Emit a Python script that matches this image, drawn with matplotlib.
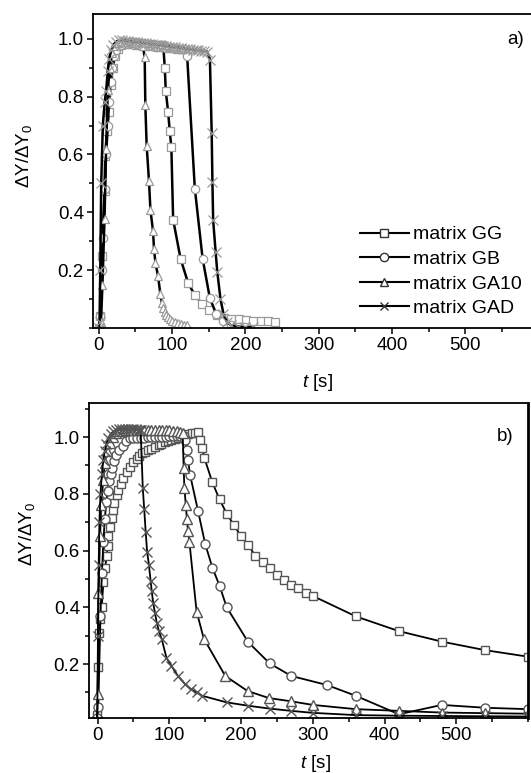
import matplotlib
matplotlib.use("Agg")
import matplotlib.pyplot as plt
from matplotlib.lines import Line2D
from matplotlib.ticker import MultipleLocator, FixedLocator

plt.rcParams['font.family'] = ['Liberation Sans', 'DejaVu Sans']
plt.rcParams['mathtext.fontset'] = 'custom'
plt.rcParams['mathtext.rm'] = 'Liberation Sans'
plt.rcParams['mathtext.it'] = 'Liberation Sans:italic'

# ---- panel a) ----
gg_a_t = [0, 2.3, 5, 7.8, 8.7, 11, 13.3, 16, 19, 22, 26, 30, 34, 38, 42, 46, 50, 54, 58, 62,
          66, 70, 74, 78, 82, 86, 88, 90, 91.4, 94.5, 96.8, 99, 101.4, 111.5, 122, 131, 141,
          151, 161, 171, 181, 191, 201, 211, 221, 231, 241]
gg_a_y = [0.0, 0.04, 0.25, 0.475, 0.593, 0.68, 0.748, 0.84, 0.9, 0.94, 0.965, 0.978, 0.985,
          0.988, 0.988, 0.987, 0.986, 0.985, 0.984, 0.983, 0.982, 0.981, 0.98, 0.979, 0.978,
          0.977, 0.975, 0.899, 0.819, 0.748, 0.681, 0.624, 0.375, 0.24, 0.154, 0.114, 0.083,
          0.062, 0.045, 0.033, 0.031, 0.031, 0.027, 0.025, 0.023, 0.023, 0.02]

gb_a_t = [0, 2, 4, 5.5, 8, 10, 12.3, 14, 16, 18, 21, 24, 28, 32, 36, 40, 44, 48, 52, 56,
          60, 64, 68, 72, 76, 80, 84, 88, 92, 96, 100, 104, 108, 112, 116, 120.5, 131, 141.6,
          151.6, 160, 170, 180, 190, 200]
gb_a_y = [0.0, 0.04, 0.2, 0.31, 0.48, 0.6, 0.7, 0.78, 0.85, 0.9, 0.94, 0.96, 0.975, 0.98,
          0.982, 0.982, 0.981, 0.98, 0.979, 0.978, 0.977, 0.976, 0.975, 0.974, 0.973, 0.972,
          0.971, 0.97, 0.969, 0.968, 0.967, 0.966, 0.965, 0.964, 0.963, 0.94, 0.482, 0.24,
          0.102, 0.05, 0.025, 0.01, 0.005, 0.003]

ga10_a_t = [1, 3, 5, 7.8, 10, 12.3, 15, 18, 22, 26, 30, 34, 38, 42, 46, 50, 54, 58, 60, 62.6,
            63.5, 65.3, 68.5, 70.4, 74, 75.3, 77.3, 80.8, 84, 86, 88, 90, 92, 94, 97, 100,
            104, 108, 112, 116, 120]
ga10_a_y = [0.0, 0.02, 0.15, 0.377, 0.62, 0.822, 0.9, 0.95, 0.975, 0.985, 0.99, 0.99, 0.989,
            0.988, 0.986, 0.984, 0.982, 0.98, 0.975, 0.937, 0.77, 0.63, 0.507, 0.409, 0.335,
            0.274, 0.224, 0.18, 0.117, 0.088, 0.07, 0.055, 0.045, 0.037, 0.03, 0.025, 0.02,
            0.016, 0.013, 0.011, 0.01]

gad_a_t = [0, 1, 2, 3.3, 5.5, 8, 10, 12.3, 14, 17, 20, 24, 28, 32, 36, 40, 44, 48, 52, 56,
           60, 64, 68, 72, 76, 80, 84, 88, 92, 96, 100, 104, 108, 112, 116, 120, 124, 128,
           132, 136, 140, 144, 148, 151.6, 154, 155, 156, 159.4, 161.6, 166, 170, 175, 180,
           190, 200, 211]
gad_a_y = [0.0, 0.02, 0.2, 0.5, 0.7, 0.78, 0.82, 0.89, 0.93, 0.96, 0.98, 0.99, 0.995, 0.994,
           0.993, 0.992, 0.99, 0.989, 0.988, 0.986, 0.985, 0.984, 0.982, 0.981, 0.98, 0.978,
           0.977, 0.976, 0.974, 0.973, 0.972, 0.97, 0.969, 0.968, 0.966, 0.965, 0.964, 0.962,
           0.961, 0.96, 0.958, 0.957, 0.955, 0.928, 0.673, 0.505, 0.372, 0.262, 0.195, 0.1,
           0.05, 0.02, 0.01, 0.005, 0.003, 0.002]

# ---- panel b) ----
gg_b_t = [-0.5, 0.3, 2, 4, 5.8, 8.1, 10.4, 12.8, 14.2, 15, 17.4, 19.8, 22, 23.4, 26.7, 29,
          32.7, 36, 40.6, 45, 50, 54.6, 58, 61.5, 66, 70.8, 75, 80, 85, 89, 94, 98.6, 103,
          108, 112, 117, 122, 126.5, 131, 135.8, 140.4, 143, 146, 149, 160, 170, 180, 190,
          200, 210, 220, 230, 240, 250, 260, 270, 280, 290, 300, 360, 420, 480, 540, 600]
gg_b_y = [0.02, 0.19, 0.31, 0.36, 0.40, 0.49, 0.54, 0.58, 0.617, 0.65, 0.684, 0.714, 0.743,
          0.766, 0.795, 0.815, 0.836, 0.854, 0.877, 0.895, 0.912, 0.924, 0.933, 0.942, 0.948,
          0.953, 0.959, 0.965, 0.971, 0.977, 0.982, 0.986, 0.99, 0.994, 0.998, 1.002, 1.007,
          1.012, 1.014, 1.015, 1.018, 0.99, 0.96, 0.925, 0.84, 0.78, 0.73, 0.69, 0.65, 0.62,
          0.58, 0.56, 0.54, 0.515, 0.497, 0.48, 0.468, 0.45, 0.44, 0.368, 0.316, 0.279,
          0.249, 0.226]

gb_b_t = [-0.5, 1, 4, 6, 8, 10, 12, 14, 16, 18, 20, 23, 26, 30, 35, 40, 45, 50, 55, 60,
          65, 70, 75, 80, 85, 90, 95, 100, 105, 110, 115, 120, 122, 124, 126, 129, 140, 150,
          160, 170, 180, 210, 240, 270, 320, 360, 420, 480, 540, 600]
gb_b_y = [0.01, 0.047, 0.37, 0.52, 0.63, 0.71, 0.77, 0.81, 0.845, 0.87, 0.89, 0.915, 0.935,
          0.955, 0.97, 0.985, 0.995, 0.996, 0.997, 0.998, 0.998, 0.999, 0.999, 1.0, 1.0,
          1.001, 1.001, 1.002, 1.002, 1.003, 1.003, 1.004, 0.99, 0.955, 0.92, 0.866, 0.74,
          0.623, 0.54, 0.476, 0.40, 0.277, 0.202, 0.158, 0.126, 0.088, 0.023, 0.056, 0.046,
          0.041]

ga10_b_t = [-1, 0.5, 1, 3.5, 5, 8, 10, 13, 17, 21, 26, 30, 35, 40, 45, 50, 55, 60, 65, 70,
            75, 80, 85, 90, 95, 100, 105, 110, 115, 118.6, 120, 121, 123, 124.5, 126, 128,
            138, 148, 178, 209, 239, 269, 300, 360, 420, 480, 540, 600]
ga10_b_y = [0.0, 0.094, 0.45, 0.65, 0.76, 0.85, 0.91, 0.95, 0.98, 1.0, 1.015, 1.02, 1.022,
            1.023, 1.024, 1.024, 1.025, 1.025, 1.025, 1.025, 1.025, 1.024, 1.024, 1.024,
            1.023, 1.023, 1.022, 1.02, 1.018, 1.015, 0.89, 0.82, 0.76, 0.71, 0.67, 0.63,
            0.385, 0.29, 0.158, 0.105, 0.08, 0.069, 0.056, 0.041, 0.035, 0.029, 0.027, 0.025]

gad_b_t = [-0.5, 0.5, 1.5, 2.5, 4, 6, 8, 10, 12, 15, 18, 22, 26, 30, 34, 38, 42, 46, 50, 54,
           58, 60, 63, 65, 67, 69, 71.5, 74, 75.5, 77.5, 80, 82.5, 85.5, 89.5, 96, 103, 112,
           122, 130, 138, 146, 180, 210, 240, 270, 300, 360, 420, 480, 540, 600]
gad_b_y = [0.0, 0.3, 0.55, 0.7, 0.8, 0.87, 0.92, 0.95, 0.975, 0.995, 1.01, 1.02, 1.025,
           1.027, 1.028, 1.028, 1.028, 1.028, 1.027, 1.027, 1.026, 1.025, 0.819, 0.745,
           0.667, 0.596, 0.55, 0.491, 0.456, 0.415, 0.38, 0.345, 0.316, 0.287, 0.222, 0.193,
           0.158, 0.129, 0.111, 0.1, 0.088, 0.065, 0.053, 0.043, 0.035, 0.028, 0.02, 0.018,
           0.017, 0.016, 0.015]

labels = ['matrix GG', 'matrix GB', 'matrix GA10', 'matrix GAD']
markers = ['s', 'o', '^', 'x']
msizes = [5.5, 6, 6, 7]

fig = plt.figure(figsize=(5.31, 7.73), dpi=100)
ax_a = fig.add_axes([0.175, 0.5757, 0.827, 0.406])
ax_b = fig.add_axes([0.1676, 0.0712, 0.8267, 0.4075])

series_a = [(gg_a_t, gg_a_y), (gb_a_t, gb_a_y), (ga10_a_t, ga10_a_y), (gad_a_t, gad_a_y)]
series_b = [(gg_b_t, gg_b_y), (gb_b_t, gb_b_y), (ga10_b_t, ga10_b_y), (gad_b_t, gad_b_y)]

for (t, y), m, ms in zip(series_a, markers, msizes):
    ax_a.plot(t, y, color='black', lw=1.8, marker=m, ms=ms, mfc='white',
              mec='#9a9a9a', mew=0.9)
for (t, y), m, ms in zip(series_b, markers, msizes):
    ax_b.plot(t, y, color='black', lw=1.3, marker=m, ms=ms + 0.5, mfc='white',
              mec='#555555', mew=1.0)

ax_a.set_xlim(-8, 591)
ax_a.set_ylim(0, 1.085)
ax_b.set_xlim(-12, 600)
ax_b.set_ylim(0.01, 1.12)

for ax in (ax_a, ax_b):
    ax.xaxis.set_major_locator(FixedLocator([0, 100, 200, 300, 400, 500]))
    ax.xaxis.set_minor_locator(MultipleLocator(50))
    ax.yaxis.set_major_locator(FixedLocator([0.2, 0.4, 0.6, 0.8, 1.0]))
    ax.yaxis.set_minor_locator(MultipleLocator(0.1))
    ax.tick_params(which='both', direction='out', labelsize=13.5, width=1.1, pad=2.5)
    ax.tick_params(which='major', length=4)
    ax.tick_params(which='minor', length=3)
    for s in ax.spines.values():
        s.set_linewidth(1.3)
    ax.set_xlabel('$t$ [s]', fontsize=13.5)
    ax.set_ylabel('ΔY/ΔY$_0$', fontsize=13.5)

ax_a.spines['right'].set_visible(False)
ax_b.spines['right'].set_linewidth(2.0)

ax_a.xaxis.set_label_coords(0.511, -0.14)
ax_b.xaxis.set_label_coords(0.515, -0.11)
ax_a.yaxis.set_label_coords(-0.135, 0.548)
ax_b.yaxis.set_label_coords(-0.118, 0.584)

ax_a.text(0.963, 0.92, 'a)', transform=ax_a.transAxes, fontsize=13.5, ha='center', va='center')
ax_b.text(0.948, 0.892, 'b)', transform=ax_b.transAxes, fontsize=13.5, ha='center', va='center')

handles = [Line2D([], [], color='black', lw=1.5, marker=m, ms=6, mfc='white',
                  mec='#333333', mew=1.0) for m in markers]
ax_a.legend(handles, labels, loc='lower right', bbox_to_anchor=(1.0, 0.0), frameon=False,
            fontsize=14, handlelength=2.5, handletextpad=0.2, labelspacing=0.36,
            borderaxespad=0.15)

fig.savefig('out.png', dpi=100)
